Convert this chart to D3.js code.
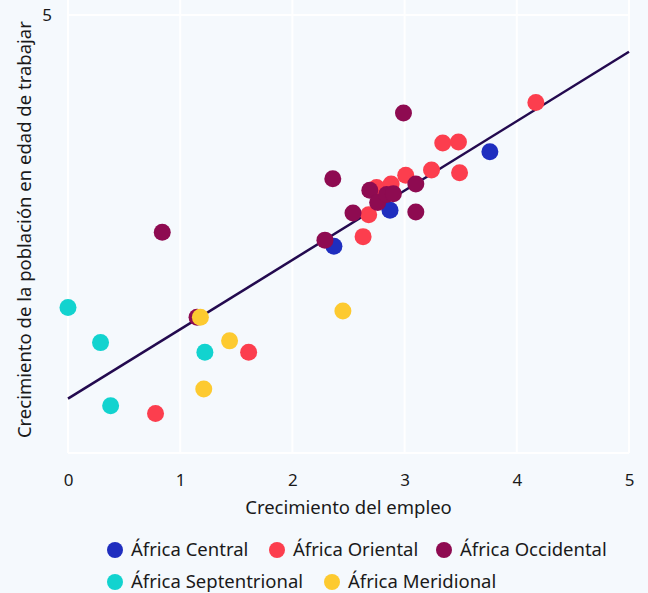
<!doctype html>
<html>
<head>
  <meta charset="UTF-8">
  <title>Crecimiento</title>
  <script src="https://cdn.jsdelivr.net/npm/d3@7"></script>
  <style>
    body { margin: 0; background: #f5f9fd; }
    text { font-family: "Noto Sans", "Open Sans", sans-serif; fill: #1a1a1a; }
  </style>
</head>
<body>
  <script>
    var W = 648, H = 593;
    var regions = ["África Central", "África Oriental", "África Occidental", "África Septentrional", "África Meridional"];
    var colors = ["#1f2ebf", "#fc3e4e", "#8e0b51", "#12d3cf", "#fdca30"];
    var xTicks = [0, 1, 2, 3, 4, 5];
    var yTicks = [5];
    var fitX = [0, 5];
    var fitY = [0.62, 4.58];

    // puntos: [empleo, poblacion]
    var central = [[2.37, 2.36], [2.87, 2.77], [3.76, 3.44]];
    var oriental = [[0.78, 0.45], [1.61, 1.15], [2.63, 2.47], [2.68, 2.72], [2.75, 3.03], [2.88, 3.07],
      [3.01, 3.17], [3.24, 3.23], [3.34, 3.54], [3.48, 3.55], [3.49, 3.20], [4.17, 4.0]];
    var occidental = [[0.84, 2.52], [1.15, 1.55], [2.29, 2.43], [2.36, 3.13], [2.54, 2.74], [2.69, 3.0],
      [2.76, 2.86], [2.84, 2.95], [2.9, 2.96], [2.99, 3.88], [3.1, 3.07], [3.1, 2.75]];
    var septentrional = [[0, 1.66], [0.29, 1.26], [0.38, 0.54], [1.22, 1.15]];
    var meridional = [[1.18, 1.55], [1.21, 0.73], [1.44, 1.28], [2.45, 1.62]];
    var series = [central, oriental, occidental, septentrional, meridional];

    var m = { left: 68, right: 19, top: 15, bottom: 140 };
    var x = d3.scaleLinear().domain([0, 5]).range([m.left, W - m.right]);
    var y = d3.scaleLinear().domain([0, 5]).range([H - m.bottom, m.top]);

    var svg = d3.select("body").append("svg").attr("width", W).attr("height", H);
    svg.append("rect").attr("width", W).attr("height", H).attr("fill", "#f5f9fd");

    // grid
    svg.append("g").selectAll("line").data(xTicks).enter().append("line")
      .attr("x1", d => x(d)).attr("x2", d => x(d))
      .attr("y1", 0).attr("y2", y(0))
      .attr("stroke", "#ffffff").attr("stroke-width", 2);
    svg.append("g").selectAll("line").data([0].concat(yTicks)).enter().append("line")
      .attr("x1", x(0)).attr("x2", x(5))
      .attr("y1", d => y(d)).attr("y2", d => y(d))
      .attr("stroke", "#ffffff").attr("stroke-width", 2);

    // axes
    var xAxis = svg.append("g").attr("transform", "translate(0," + (y(0) + 18) + ")")
      .call(d3.axisBottom(x).tickValues(xTicks).tickSize(0).tickFormat(d3.format("d")));
    xAxis.select(".domain").remove();
    xAxis.selectAll("text").attr("font-size", 17).attr("dy", "0.71em");

    var yAxis = svg.append("g").attr("transform", "translate(" + (x(0) - 13) + ",0)")
      .call(d3.axisLeft(y).tickValues(yTicks).tickSize(0).tickFormat(d3.format("d")));
    yAxis.select(".domain").remove();
    yAxis.selectAll("text").attr("font-size", 17).attr("dy", "0.35em");

    svg.append("text").attr("x", (x(0) + x(5)) / 2).attr("y", 514)
      .attr("text-anchor", "middle").attr("font-size", 18.5).text("Crecimiento del empleo");
    svg.append("text").attr("transform", "translate(31," + y(2.55) + ") rotate(-90)")
      .attr("text-anchor", "middle").attr("font-size", 18.5)
      .text("Crecimiento de la población en edad de trabajar");

    // fit line
    svg.append("line")
      .attr("x1", x(fitX[0])).attr("y1", y(fitY[0]))
      .attr("x2", x(fitX[1])).attr("y2", y(fitY[1]))
      .attr("stroke", "#230a4f").attr("stroke-width", 2.5);

    // points
    series.forEach(function(s, i) {
      svg.append("g").selectAll("circle").data(s).enter().append("circle")
        .attr("cx", d => x(d[0])).attr("cy", d => y(d[1]))
        .attr("r", 8.5).attr("fill", colors[i]);
    });

    // legend
    var legendPos = [[115, 550], [277, 550], [444, 550], [115, 582], [332, 582]];
    var lg = svg.append("g").selectAll("g").data(regions).enter().append("g")
      .attr("transform", (d, i) => "translate(" + legendPos[i][0] + "," + legendPos[i][1] + ")");
    lg.append("circle").attr("r", 8).attr("fill", (d, i) => colors[i]);
    lg.append("text").attr("x", 16).attr("dy", "0.35em").attr("font-size", 18.5).text(d => d);
  </script>
</body>
</html>
